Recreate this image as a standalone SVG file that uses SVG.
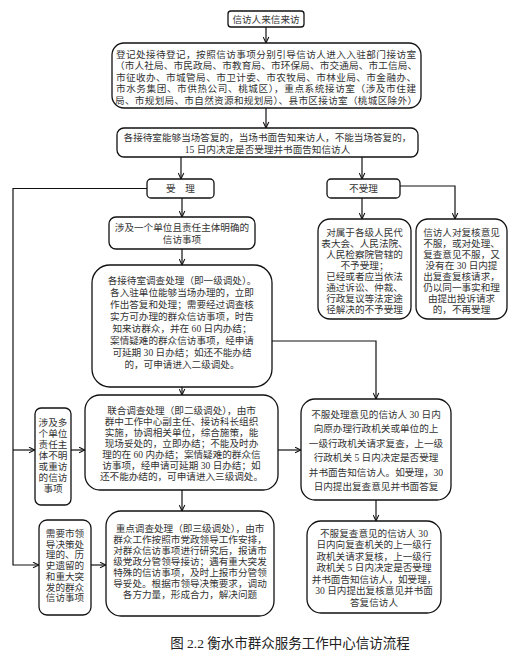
<svg xmlns="http://www.w3.org/2000/svg" width="518" height="655" viewBox="0 0 518 655">
<style>
.box{fill:#fff;stroke:#111;stroke-width:1.3}
.t{font-family:"Liberation Serif","Noto Sans CJK SC",serif;fill:#333;text-anchor:middle;font-size:9.6px}
.c{fill:none;stroke:#111;stroke-width:1.2;marker-end:url(#ah)}
.cap{font-family:"Liberation Serif","Noto Sans CJK SC",serif;fill:#222;text-anchor:middle;font-size:13.5px}
</style>
<defs>
<marker id="ah" viewBox="0 0 10 10" refX="9.5" refY="5" markerWidth="7" markerHeight="7" markerUnits="userSpaceOnUse" orient="auto">
<path d="M1,1 L9.5,5 L1,9" fill="none" stroke="#111" stroke-width="1.5"/>
</marker>
</defs>
<rect width="518" height="655" fill="#fff"/>

<g id="connectors">
<path class="c" d="M266,26 V43"/>
<path class="c" d="M266,108 V128"/>
<path class="c" d="M181,157 V179"/>
<path class="c" d="M362,157 V179"/>
<path class="c" d="M147,188.5 H13 V565 H39"/>
<path class="c" d="M13,450 H35"/>
<path class="c" d="M182,198 V217"/>
<path class="c" d="M182,249 V265"/>
<path class="c" d="M182,387 V395"/>
<path class="c" d="M272,341 H376 V399"/>
<path class="c" d="M71,450 H85"/>
<path class="c" d="M278,450 H301"/>
<path class="c" d="M182,490 V511"/>
<path class="c" d="M91,565 H106"/>
<path class="c" d="M376,500 V521"/>
<path class="c" d="M362,198 V219"/>
<path class="c" d="M400,186 H455 V219"/>
</g>

<g id="n-title">
<rect class="box" x="228" y="11" width="76" height="16" rx="3"/>
<text class="t" x="266" y="22.5" font-size="9.5">信访人来信来访</text>
</g>

<g id="n-register">
<rect class="box" x="112" y="43" width="309" height="65" rx="12"/>
<text class="t"><tspan x="266" y="57.5" textLength="300" lengthAdjust="spacing">登记处接待登记，按照信访事项分别引导信访人进入入驻部门接访室</tspan><tspan x="266" y="69" textLength="302" lengthAdjust="spacing">（市人社局、市民政局、市教育局、市环保局、市交通局、市工信局、</tspan><tspan x="266" y="80.5" textLength="300" lengthAdjust="spacing">市征收办、市城管局、市卫计委、市农牧局、市林业局、市金融办、</tspan><tspan x="266" y="92" textLength="300" lengthAdjust="spacing">市水务集团、市供热公司、桃城区），重点系统接访室（涉及市住建</tspan><tspan x="266" y="103.5" textLength="302" lengthAdjust="spacing">局、市规划局、市自然资源和规划局）、县市区接访室（桃城区除外）</tspan></text>
</g>

<g id="n-reply">
<rect class="box" x="117" y="128" width="301" height="29" rx="7"/>
<text class="t"><tspan x="267.5" y="141">各接待室能够当场答复的，当场书面告知来访人，不能当场答复的，</tspan><tspan x="267.5" y="152.5">15 日内决定是否受理并书面告知信访人</tspan></text>
</g>

<g id="n-accept">
<rect class="box" x="147" y="179" width="67" height="19" rx="4"/>
<text class="t" x="180.5" y="192">受　理</text>
</g>

<g id="n-reject">
<rect class="box" x="327" y="179" width="73" height="19" rx="4"/>
<text class="t" x="363.5" y="192">不受理</text>
</g>

<g id="n-single">
<rect class="box" x="109" y="217" width="146" height="32" rx="7"/>
<text class="t" font-size="9.8"><tspan x="182" y="231">涉及一个单位且责任主体明确的</tspan><tspan x="182" y="243">信访事项</tspan></text>
</g>

<g id="n-level1">
<rect class="box" x="92" y="265" width="180" height="122" rx="18"/>
<text class="t"><tspan x="182" y="284">各接待室调查处理（即一级调处）。</tspan><tspan x="182" y="296">各入驻单位能够当场办理的，立即</tspan><tspan x="182" y="308">作出答复和处理；需要经过调查核</tspan><tspan x="182" y="320">实方可办理的群众信访事项，时告</tspan><tspan x="182" y="332">知来访群众，并在 60 日内办结；</tspan><tspan x="182" y="344">案情疑难的群众信访事项，经申请</tspan><tspan x="182" y="356">可延期 30 日办结；如还不能办结</tspan><tspan x="182" y="368">的，可申请进入二级调处。</tspan></text>
</g>

<g id="n-notunder">
<rect class="box" x="318" y="219" width="93" height="100" rx="12"/>
<text class="t" font-size="9.3"><tspan x="364.5" y="235.5">对属于各级人民代</tspan><tspan x="364.5" y="246.5">表大会、人民法院、</tspan><tspan x="364.5" y="257.5">人民检察院管辖的</tspan><tspan x="364.5" y="268.5">不予受理；</tspan><tspan x="364.5" y="279.5">已经或者应当依法</tspan><tspan x="364.5" y="290.5">通过诉讼、仲裁、</tspan><tspan x="364.5" y="301.5">行政复议等法定途</tspan><tspan x="364.5" y="312.5">径解决的不予受理</tspan></text>
</g>

<g id="n-norecheck">
<rect class="box" x="416" y="219" width="91" height="100" rx="12"/>
<text class="t" font-size="9.5"><tspan x="461.5" y="235.5">信访人对复核意见</tspan><tspan x="461.5" y="246.5">不服，或对处理、</tspan><tspan x="461.5" y="257.5">复查意见不服，又</tspan><tspan x="461.5" y="268.5">没有在 30 日内提</tspan><tspan x="461.5" y="279.5">出复查复核请求，</tspan><tspan x="461.5" y="290.5">仍以同一事实和理</tspan><tspan x="461.5" y="301.5">由提出投诉请求</tspan><tspan x="461.5" y="312.5">的，不再受理</tspan></text>
</g>

<g id="n-multi">
<rect class="box" x="35" y="408" width="36" height="97" rx="6"/>
<text class="t" font-size="9.8"><tspan x="53" y="425.5">涉及多</tspan><tspan x="53" y="436.5">个单位</tspan><tspan x="53" y="447.5">责任主</tspan><tspan x="53" y="458.5">体不明</tspan><tspan x="53" y="469.5">或重访</tspan><tspan x="53" y="480.5">的信访</tspan><tspan x="53" y="491.5">事项</tspan></text>
</g>

<g id="n-level2">
<rect class="box" x="85" y="395" width="193" height="95" rx="15"/>
<text class="t" font-size="9.8"><tspan x="181.5" y="413.5">联合调查处理（即二级调处），由市</tspan><tspan x="181.5" y="424.5">群中工作中心副主任、接访科长组织</tspan><tspan x="181.5" y="435.5">实施，协调相关单位，综合施策，能</tspan><tspan x="181.5" y="446.5">现场妥处的，立即办结；不能及时办</tspan><tspan x="181.5" y="457.5">理的在 60 内办结；案情疑难的群众信</tspan><tspan x="181.5" y="468.5">访事项，经申请可延期 30 日办结；如</tspan><tspan x="181.5" y="479.5">还不能办结的，可申请进入三级调处。</tspan></text>
</g>

<g id="n-review">
<rect class="box" x="301" y="399" width="150" height="101" rx="14"/>
<text class="t" font-size="9.8"><tspan x="376" y="417.5">不服处理意见的信访人 30 日内</tspan><tspan x="376" y="432">向原办理行政机关或单位的上</tspan><tspan x="376" y="446.5">一级行政机关请求复查，上一级</tspan><tspan x="376" y="461">行政机关 5 日内决定是否受理</tspan><tspan x="376" y="475.5">并书面告知信访人。如受理，30</tspan><tspan x="376" y="490">日内提出复查意见并书面答复</tspan></text>
</g>

<g id="n-leader">
<rect class="box" x="39" y="520" width="52" height="95" rx="8"/>
<text class="t" font-size="9.6"><tspan x="65" y="537">需要市领</tspan><tspan x="65" y="547.7">导决策处</tspan><tspan x="65" y="558.4">理的、历</tspan><tspan x="65" y="569.1">史遗留的</tspan><tspan x="65" y="579.8">和重大突</tspan><tspan x="65" y="590.5">发的群众</tspan><tspan x="65" y="601.2">信访事项</tspan></text>
</g>

<g id="n-level3">
<rect class="box" x="106" y="511" width="168" height="105" rx="15"/>
<text class="t" font-size="9.8"><tspan x="190" y="531.5">重点调查处理（即三级调处），由市</tspan><tspan x="190" y="542.5">群众工作按照市党政领导工作安排，</tspan><tspan x="190" y="553.5">对群众信访事项进行研究后，报请市</tspan><tspan x="190" y="564.5">级党政分管领导接访；遇有重大突发</tspan><tspan x="190" y="575.5">特殊的信访事项，及时上报市分管领</tspan><tspan x="190" y="586.5">导妥处。根据市领导决策要求，调动</tspan><tspan x="190" y="597.5">各方力量，形成合力，解决问题</tspan></text>
</g>

<g id="n-recheck">
<rect class="box" x="307" y="521" width="134" height="92" rx="14"/>
<text class="t" font-size="10"><tspan x="374" y="536.5">不服复查意见的信访人 30</tspan><tspan x="374" y="548">日内向复查机关的上一级行</tspan><tspan x="374" y="559.5">政机关请求复核，上一级行</tspan><tspan x="374" y="571">政机关 5 日内决定是否受理</tspan><tspan x="374" y="582.5">并书面告知信访人，如受理，</tspan><tspan x="374" y="594">30 日内提出复核意见并书面</tspan><tspan x="374" y="605.5">答复信访人</tspan></text>
</g>

<text class="cap" x="290" y="648">图 2.2 衡水市群众服务工作中心信访流程</text>
</svg>
